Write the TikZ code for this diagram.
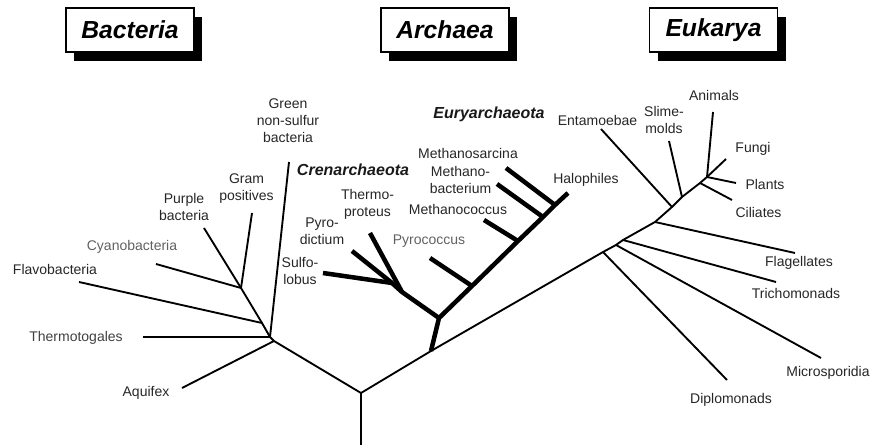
\documentclass[tikz,border=0pt]{standalone}
\usepackage{fontspec}
\setmainfont{Liberation Sans}
\usetikzlibrary{shadows}
\begin{document}
\begin{tikzpicture}[x=0.75pt,y=-0.75pt,
  branch/.style={line width=1.4pt, line join=round, draw=black},
  thickbranch/.style={line width=3.4pt, line join=round, draw=black},
  lbl/.style={font=\fontsize{10.5}{12.75}\selectfont, text=black!85, inner sep=0pt, align=center},
  lblgray/.style={lbl, text=black!62},
  lbldim/.style={lbl, text=black!75},
  clade/.style={font=\fontsize{12}{14}\selectfont\bfseries\itshape, text=black!90, inner sep=0pt},
  titlebox/.style={draw=black, fill=white, line width=0.9pt, minimum width=96pt, minimum height=33pt,
    inner sep=0pt, font=\fontsize{18.5}{20}\selectfont\bfseries\itshape,
    drop shadow={shadow xshift=6pt, shadow yshift=-6.5pt, fill=black, opacity=1}}
]
\path[use as bounding box] (0,0) rectangle (882,445);

% titles
\node[titlebox] (tbac) at (130,30) {Bacteria};
\node[titlebox] (tarc) at (445,30) {Archaea};
\node[titlebox] (teuk) at (713.5,30) {Eukarya};

% ---- coordinates: trunk
\coordinate (base) at (361,445);
\coordinate (root) at (361,393);
% bacteria
\coordinate (b1) at (274,341);
\coordinate (b2) at (270,337);
\coordinate (b3) at (262,323);
\coordinate (b4) at (241,288);
\coordinate (lgreen) at (289,162);
\coordinate (lthermotoga) at (143,337);
\coordinate (laquifex) at (182,388);
\coordinate (lflavo) at (79,282);
\coordinate (lcyano) at (156,264);
\coordinate (lpurple) at (204,228);
\coordinate (lgram) at (252,213);
% archaea
\coordinate (a0) at (431,351);
\coordinate (a1) at (439,318);
\coordinate (c0) at (402,292);
\coordinate (c1) at (392,283);
\coordinate (lthermoprot) at (370,233);
\coordinate (lpyrodict) at (352,251);
\coordinate (lsulfo) at (323,273);
\coordinate (e1) at (472,286);
\coordinate (e2) at (518,241);
\coordinate (e3) at (543,217);
\coordinate (e4) at (555,205);
\coordinate (lhalo) at (568,193);
\coordinate (lpyroc) at (430,258);
\coordinate (lmcoccus) at (484,220);
\coordinate (lmbact) at (497,184);
\coordinate (lmsarc) at (506,168);
% eukarya
\coordinate (kD) at (603,252);
\coordinate (kM) at (616,245);
\coordinate (kT) at (623,240);
\coordinate (kF) at (655,222);
\coordinate (kE) at (672,207);
\coordinate (kS) at (682,197);
\coordinate (kC) at (700,183);
\coordinate (kP) at (707,177);
\coordinate (lfungi) at (726,159);
\coordinate (ldiplo) at (727,380);
\coordinate (lmicro) at (821,358);
\coordinate (ltricho) at (776,282);
\coordinate (lflag) at (795,253);
\coordinate (lentam) at (601,129);
\coordinate (lslime) at (669,141);
\coordinate (lcili) at (732,200);
\coordinate (lplants) at (736,183);
\coordinate (lanimals) at (713,112);

% ---- thin branches
\draw[branch] (base) -- (root) -- (b1) -- (b2) -- (b3) -- (b4);
\draw[branch] (b1) -- (laquifex);
\draw[branch] (b2) -- (lthermotoga);
\draw[branch] (b2) -- (lgreen);
\draw[branch] (b3) -- (lflavo);
\draw[branch] (b4) -- (lcyano);
\draw[branch] (b4) -- (lpurple);
\draw[branch] (b4) -- (lgram);
\draw[branch] (root) -- (a0) -- (kD) -- (kM) -- (kT) -- (kF) -- (kE) -- (kS) -- (kC) -- (kP) -- (lfungi);
\draw[branch] (kD) -- (ldiplo);
\draw[branch] (kM) -- (lmicro);
\draw[branch] (kT) -- (ltricho);
\draw[branch] (kF) -- (lflag);
\draw[branch] (kE) -- (lentam);
\draw[branch] (kS) -- (lslime);
\draw[branch] (kC) -- (lcili);
\draw[branch] (kP) -- (lplants);
\draw[branch] (kP) -- (lanimals);

% ---- thick archaeal branches
\draw[thickbranch] (a0) -- (a1) -- (c0) -- (c1) -- (lsulfo);
\draw[thickbranch] (c1) -- (lpyrodict);
\draw[thickbranch] (c0) -- (lthermoprot);
\draw[thickbranch] (a1) -- (e1) -- (e2) -- (e3) -- (e4) -- (lhalo);
\draw[thickbranch] (e1) -- (lpyroc);
\draw[thickbranch] (e2) -- (lmcoccus);
\draw[thickbranch] (e3) -- (lmbact);
\draw[thickbranch] (e4) -- (lmsarc);

% ---- labels
\node[lbl] (tgreen) at (288,121) {Green\\non-sulfur\\bacteria};
\node[lbl] (tgram) at (246.5,188.5) {Gram\\positives};
\node[lbl] (tpurple) at (184,206.5) {Purple\\bacteria};
\node[lblgray] (tcyano) at (132,247) {Cyanobacteria};
\node[lbl] (tflavo) at (55,269) {Flavobacteria};
\node[lbldim] (tthermotoga) at (76,338) {Thermotogales};
\node[lbl] (taquifex) at (146,393) {Aquifex};

\node[clade] (tcren) at (353,170) {Crenarchaeota};
\node[clade] (teury) at (489,114) {Euryarchaeota};
\node[lbl] (tthermoprot) at (367.5,204) {Thermo-\\proteus};
\node[lbl] (tpyrodict) at (322,231) {Pyro-\\dictium};
\node[lbl] (tsulfo) at (300,271) {Sulfo-\\lobus};
\node[lblgray] (tpyroc) at (429,241) {Pyrococcus};
\node[lbl] (tmcoccus) at (458,209) {Methanococcus};
\node[lbl] (tmbact) at (460.5,180) {Methano-\\bacterium};
\node[lbl] (tmsarc) at (468,153) {Methanosarcina};
\node[lbl] (thalo) at (586,180) {Halophiles};

\node[lbl] (tentam) at (597.5,120) {Entamoebae};
\node[lbl] (tslime) at (664,120) {Slime-\\molds};
\node[lbl] (tanimals) at (714,95) {Animals};
\node[lbl] (tfungi) at (753,149) {Fungi};
\node[lbl] (tplants) at (765,184) {Plants};
\node[lbl] (tcili) at (758.5,212) {Ciliates};
\node[lbl] (tflag) at (799,263) {Flagellates};
\node[lbl] (ttricho) at (796,293) {Trichomonads};
\node[lbl] (tmicro) at (828,373) {Microsporidia};
\node[lbl] (tdiplo) at (731,400) {Diplomonads};
\end{tikzpicture}
\end{document}
